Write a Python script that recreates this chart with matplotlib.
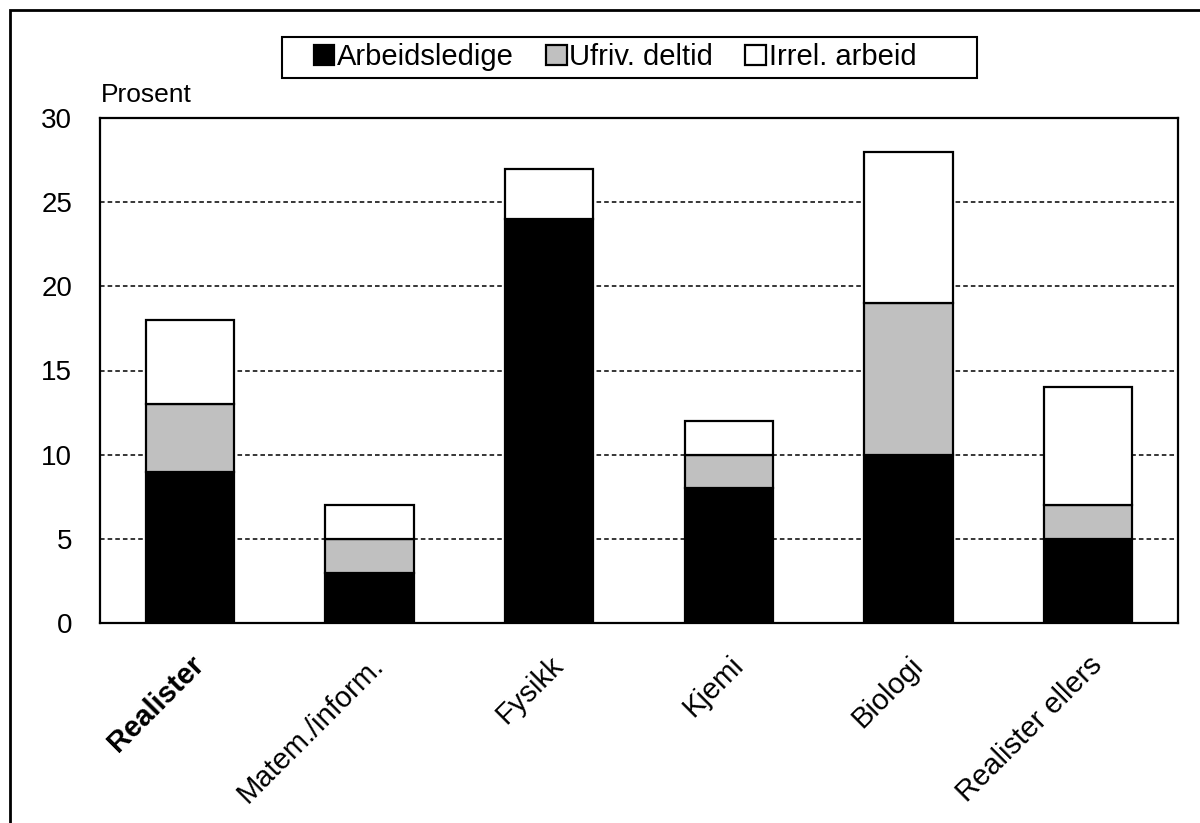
import matplotlib
matplotlib.use("Agg")
from matplotlib import pyplot as plt
from matplotlib.patches import Rectangle
import numpy as np

categories = ["Realister", "Matem./inform.", "Fysikk", "Kjemi", "Biologi", "Realister ellers"]
arbeidsledige = [9, 3, 24, 8, 10, 5]
ufriv_deltid = [4, 2, 0, 2, 9, 2]
irrel_arbeid = [5, 2, 3, 2, 9, 7]
series_names = ["Arbeidsledige", "Ufriv. deltid", "Irrel. arbeid"]
yticks = [0, 5, 10, 15, 20, 25, 30]

plt.rcParams['font.family'] = ['Liberation Sans', 'DejaVu Sans']

fig = plt.figure(figsize=(12, 8.23), dpi=100)
W, H = 1200, 823
# plot area in pixels: left 100, right 1178, top 118, bottom 623
ax = fig.add_axes([100 / W, 1 - 623 / H, 1078 / W, 505 / H])

x = np.arange(len(categories))
bw = 0.49
a = np.array(arbeidsledige)
u = np.array(ufriv_deltid)
r = np.array(irrel_arbeid)

kw = dict(width=bw, edgecolor='black', linewidth=1.6, zorder=3)
b1 = ax.bar(x, a, color='black', label=series_names[0], **kw)
b2 = ax.bar(x, u, bottom=a, color='#c0c0c0', label=series_names[1], **kw)
b3 = ax.bar(x, r, bottom=a + u, color='white', label=series_names[2], **kw)

ax.set_xlim(-0.5, len(categories) - 0.5)
ax.set_ylim(0, 30)
ax.set_yticks(yticks)
ax.set_yticklabels([str(t) for t in yticks], fontsize=20)
ax.tick_params(axis='y', length=0, pad=20)
ax.tick_params(axis='x', length=0, pad=20)
ax.yaxis.grid(True, linestyle=(0, (3, 2)), color='black', linewidth=1.1, zorder=0)
ax.set_axisbelow(True)
for s in ax.spines.values():
    s.set_linewidth(1.6)

ax.set_xticks(x)
ax.set_xticklabels(categories, rotation=45, ha='right', rotation_mode='anchor', fontsize=21)
ax.get_xticklabels()[0].set_fontweight('bold')

fig.text(101 / W, 1 - 95 / H, "Prosent", fontsize=19, va='center', ha='left')

# legend box (Excel style, extra room on the right)
fig.patches.append(Rectangle((282 / W, 1 - 78 / H), 695 / W, 41 / H,
                             transform=fig.transFigure, facecolor='white',
                             edgecolor='black', linewidth=1.5))
leg = fig.legend(handles=[b1, b2, b3], labels=series_names, loc='center left',
                 bbox_to_anchor=(308 / W, 1 - 57 / H), ncol=3, fontsize=21,
                 frameon=False, handlelength=0.7, handleheight=0.7,
                 handletextpad=0.1, columnspacing=1.1, borderpad=0.2,
                 borderaxespad=0)

# outer frame
fig.patches.append(Rectangle((10 / W, -0.01), 1.2, 1 - 10 / H + 0.01,
                             transform=fig.transFigure, fill=False,
                             edgecolor='black', linewidth=2))

fig.savefig("out.png", dpi=100)
